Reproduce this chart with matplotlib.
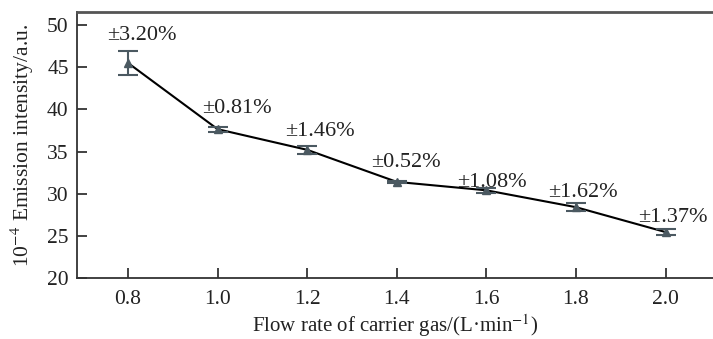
import matplotlib
matplotlib.use("Agg")
import matplotlib.pyplot as plt

flow = [0.8, 1.0, 1.2, 1.4, 1.6, 1.8, 2.0]
intensity = [45.5, 37.65, 35.2, 31.4, 30.4, 28.4, 25.45]
err = [1.45, 0.30, 0.51, 0.16, 0.33, 0.46, 0.35]
rsd_labels = ["±3.20%", "±0.81%", "±1.46%", "±0.52%", "±1.08%", "±1.62%", "±1.37%"]
label_offsets = [(14, 28), (19, 21), (13, 18), (9, 19), (6, 8), (7, 15), (7, 15)]

plt.rcParams['font.family'] = ['Liberation Serif', 'DejaVu Serif']
plt.rcParams['mathtext.fontset'] = 'stix'

fig = plt.figure(figsize=(7.13, 3.39), dpi=100)
ax = fig.add_axes([77/713, 1-278/339, 1-77/713, (278-12)/339])

mc = '#4b5961'
ax.plot(flow, intensity, color='black', lw=1.5, zorder=2)
ax.errorbar(flow, intensity, yerr=err, fmt='^', color=mc, ms=6, ecolor=mc,
            elinewidth=1.5, capsize=7, capthick=1.5, zorder=3)

for x, y, t, (dx, dy) in zip(flow, intensity, rsd_labels, label_offsets):
    ax.annotate(t, (x, y), xytext=(dx, dy), textcoords='offset pixels',
                ha='center', va='center', fontsize=16, color='#222222')

ax.set_xlim(0.686, 2.106)
ax.set_ylim(20, 51.55)
ax.set_xticks(flow)
ax.set_xticklabels([f"{v:.1f}" for v in flow])
ax.set_yticks([20, 25, 30, 35, 40, 45, 50])
ax.tick_params(direction='in', length=7, width=1.2, labelsize=15.5, colors='#222222', pad=6)
ax.tick_params(axis='x', pad=9)
for s in ['left', 'bottom', 'top']:
    ax.spines[s].set_linewidth(1.3)
    ax.spines[s].set_color('#333333')
ax.spines['top'].set_color('#555555')
ax.spines['top'].set_linewidth(2)
ax.spines['right'].set_visible(False)

ax.set_xlabel(r"Flow rate of carrier gas/(L·min$^{-1}$)", fontsize=15, color='#222222', labelpad=2)
ax.set_ylabel(r"10$^{-4}$ Emission intensity/a.u.", fontsize=15.5, color='#222222', labelpad=8)

fig.savefig('out.png', dpi=100)
